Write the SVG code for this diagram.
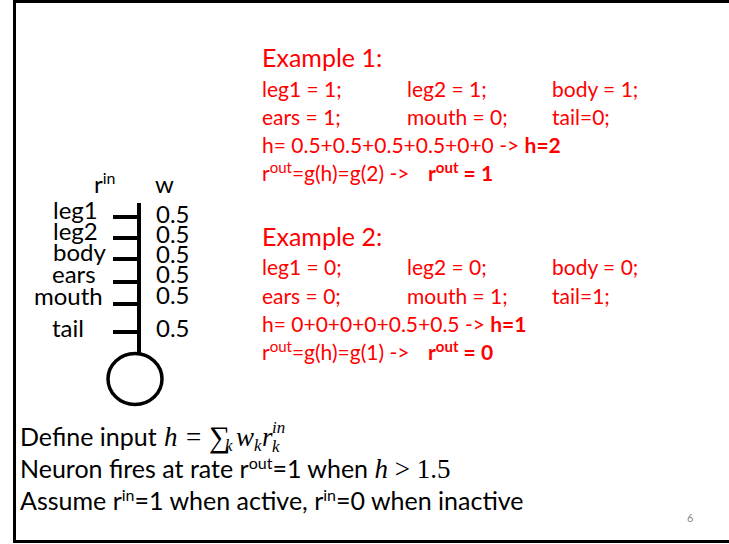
<svg xmlns="http://www.w3.org/2000/svg" width="729" height="544" viewBox="0 0 729 544">
<style>
.t{font-family:Lato,"Liberation Sans",sans-serif;fill:#000}
.r{font-family:Lato,"Liberation Sans",sans-serif;fill:#FF0000;font-size:21px}
.ex{font-size:25px}
.b{font-weight:bold}
.lab{font-size:24px}
.bot{font-size:25px}
.m{font-family:"Liberation Serif",serif;font-style:italic}
.mn{font-family:"Liberation Serif",serif}
.stk{stroke:#000;stroke-width:4;fill:none}
</style>
<rect x="14.5" y="1.5" width="730" height="540" fill="#fff" stroke="#000" stroke-width="3"/>
<g id="neuron">
  <line class="stk" x1="139" y1="203" x2="139" y2="354"/>
  <ellipse cx="135" cy="379" rx="27" ry="25.5" fill="none" stroke="#000" stroke-width="3.5"/>
</g>
<g id="inputs">
  <g class="stk">
    <line x1="113" y1="217" x2="139" y2="217"/>
    <line x1="113" y1="238" x2="139" y2="238"/>
    <line x1="113" y1="259" x2="139" y2="259"/>
    <line x1="113" y1="282" x2="139" y2="282"/>
    <line x1="113" y1="304" x2="139" y2="304"/>
    <line x1="113" y1="332" x2="139" y2="332"/>
  </g>
  <g class="t lab">
    <text x="94" y="193">r<tspan font-size="16" dy="-9">in</tspan></text>
    <text x="155" y="193">w</text>
    <text x="53" y="219">leg1</text>
    <text x="53" y="240">leg2</text>
    <text x="53" y="261">body</text>
    <text x="52" y="283">ears</text>
    <text x="34" y="305">mouth</text>
    <text x="52" y="337">tail</text>
    <text x="156" y="223">0.5</text>
    <text x="156" y="243">0.5</text>
    <text x="156" y="263">0.5</text>
    <text x="156" y="283">0.5</text>
    <text x="156" y="304">0.5</text>
    <text x="156" y="337">0.5</text>
  </g>
</g>
<g id="example1" class="r">
  <text class="ex" x="262" y="67">Example 1:</text>
  <text x="262" y="97">leg1 = 1;</text>
  <text x="407" y="97">leg2 = 1;</text>
  <text x="552" y="97">body = 1;</text>
  <text x="262" y="125">ears = 1;</text>
  <text x="407" y="125">mouth = 0;</text>
  <text x="552" y="125">tail=0;</text>
  <text x="262" y="153">h= 0.5+0.5+0.5+0.5+0+0 -&gt; <tspan class="b">h=2</tspan></text>
  <text x="262" y="181">r<tspan font-size="15" dy="-8">out</tspan><tspan dy="8">=g(h)=g(2) -&gt;</tspan></text>
  <text class="b" x="428" y="181">r<tspan font-size="15" dy="-8">out</tspan><tspan dy="8"> = 1</tspan></text>
</g>
<g id="example2" class="r">
  <text class="ex" x="262" y="246">Example 2:</text>
  <text x="262" y="275">leg1 = 0;</text>
  <text x="407" y="275">leg2 = 0;</text>
  <text x="552" y="275">body = 0;</text>
  <text x="262" y="304">ears = 0;</text>
  <text x="407" y="304">mouth = 1;</text>
  <text x="552" y="304">tail=1;</text>
  <text x="262" y="332">h= 0+0+0+0+0.5+0.5 -&gt; <tspan class="b">h=1</tspan></text>
  <text x="262" y="360">r<tspan font-size="15" dy="-8">out</tspan><tspan dy="8">=g(h)=g(1) -&gt;</tspan></text>
  <text class="b" x="428" y="360">r<tspan font-size="15" dy="-8">out</tspan><tspan dy="8"> = 0</tspan></text>
</g>
<g id="definitions" class="t bot">
  <text x="20" y="446">Define input</text>
  <text class="m" font-size="27" x="164" y="446">h</text>
  <text class="mn" font-size="27" x="186" y="446">=</text>
  <text class="mn" font-size="30" x="209" y="447">∑</text>
  <text class="m" font-size="17" x="225" y="451">k</text>
  <text class="m" font-size="27" x="236" y="446">w</text>
  <text class="m" font-size="17" x="254" y="451">k</text>
  <text class="m" font-size="27" x="262" y="446">r</text>
  <text class="m" font-size="17" x="272" y="452">k</text>
  <text class="m" font-size="17" x="272" y="433">in</text>
  <text x="20" y="478">Neuron fires at rate r<tspan font-size="16" dy="-9">out</tspan><tspan dy="9">=1 when </tspan><tspan class="m" font-size="27">h</tspan><tspan class="mn" font-size="27"> &gt; 1.5</tspan></text>
  <text x="20" y="510">Assume r<tspan font-size="16" dy="-9">in</tspan><tspan dy="9">=1 when active, r</tspan><tspan font-size="16" dy="-9">in</tspan><tspan dy="9">=0 when inactive</tspan></text>
  <text x="687" y="522" font-size="11" fill="#888">6</text>
</g>
</svg>
